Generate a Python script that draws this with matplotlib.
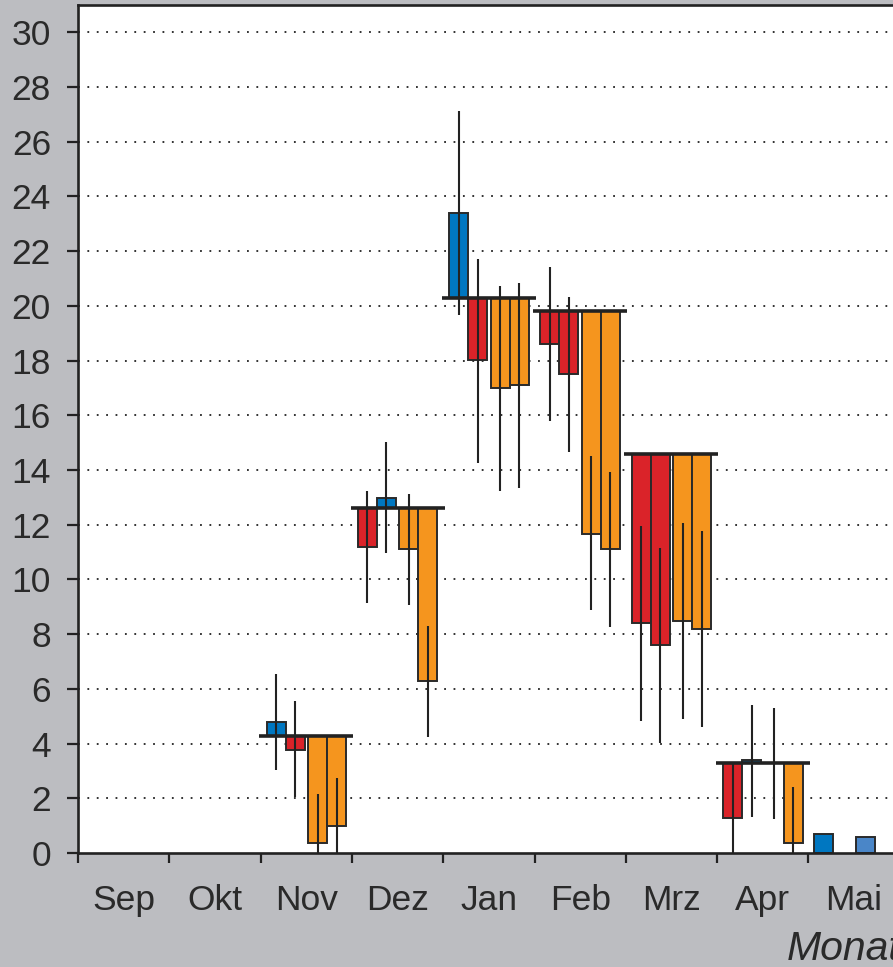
import numpy as np
import matplotlib
matplotlib.use('Agg')
import matplotlib.pyplot as plt

# month labels on the x axis
months = ['Sep', 'Okt', 'Nov', 'Dez', 'Jan', 'Feb', 'Mrz', 'Apr', 'Mai']

# colours
BLUE = '#0077c1'
RED = '#da2329'
ORANGE = '#f5951e'
LBLUE = '#4a86c8'
BG = '#bcbdc1'
DARK = '#222222'

# reference level of each month (horizontal line); None = no line
base = [None, None, 4.27, 12.6, 20.3, 19.8, 14.6, 3.3, 0.0]

# four slots per month: bar end value, colour, error low, error high
# (nan = nothing drawn in that slot)
nan = np.nan
vals = {
    'Nov': [4.8, 3.78, 0.37, 0.99],
    'Dez': [11.18, 12.97, 11.1, 6.28],
    'Jan': [23.38, 18.01, 16.99, 17.1],
    'Feb': [18.6, 17.5, 11.66, 11.1],
    'Mrz': [8.4, 7.6, 8.48, 8.18],
    'Apr': [1.28, 3.4, nan, 0.37],
    'Mai': [0.69, nan, 0.58, nan],
}
cols = {
    'Nov': [BLUE, RED, ORANGE, ORANGE],
    'Dez': [RED, BLUE, ORANGE, ORANGE],
    'Jan': [BLUE, RED, ORANGE, ORANGE],
    'Feb': [RED, RED, ORANGE, ORANGE],
    'Mrz': [RED, RED, ORANGE, ORANGE],
    'Apr': [RED, BLUE, ORANGE, ORANGE],
    'Mai': [BLUE, BLUE, LBLUE, LBLUE],
}
err_lo = {
    'Nov': [3.03, 2.03, 0.0, 0.0],
    'Dez': [9.13, 10.96, 9.06, 4.24],
    'Jan': [19.66, 14.25, 13.25, 13.35],
    'Feb': [15.78, 14.65, 8.88, 8.26],
    'Mrz': [4.82, 4.02, 4.9, 4.6],
    'Apr': [0.0, 1.32, 1.24, 0.0],
    'Mai': [nan, nan, nan, nan],
}
err_hi = {
    'Nov': [6.54, 5.55, 2.16, 2.74],
    'Dez': [13.23, 15.02, 13.12, 8.29],
    'Jan': [27.11, 21.7, 20.72, 20.82],
    'Feb': [21.41, 20.31, 14.52, 13.94],
    'Mrz': [11.95, 11.14, 12.06, 11.76],
    'Apr': [3.29, 5.41, 5.3, 2.41],
    'Mai': [nan, nan, nan, nan],
}

slot_off = [0.065, 0.273, 0.52, 0.728]
bw = 0.208

plt.rcParams['font.family'] = ['Liberation Sans', 'DejaVu Sans']
TXT = '#2a2a2a'

fig = plt.figure(figsize=(8.93, 9.67), dpi=100, facecolor=BG)
# axes runs past the right edge of the picture (cropped like the original)
ax = fig.add_axes([78 / 893, (967 - 853) / 967, 913 / 893, 848 / 967])
ax.set_facecolor('white')
ax.set_xlim(0, 10)
ax.set_ylim(0, 31)

# dotted grid
for g in range(2, 31, 2):
    ax.axhline(g, color=DARK, lw=1.3, ls=(0, (1, 4.2)), zorder=0)

for i, m in enumerate(months):
    if m not in vals:
        continue
    b = base[i]
    for k in range(4):
        v = vals[m][k]
        x0 = i + slot_off[k]
        if not np.isnan(v):
            ax.bar(x0, v - b, bottom=b, width=bw, align='edge',
                   color=cols[m][k], edgecolor='#2a2a2a', linewidth=1.4, zorder=2)
        lo, hi = err_lo[m][k], err_hi[m][k]
        if not np.isnan(lo):
            ax.vlines(x0 + bw / 2, lo, hi, color=DARK, lw=1.5, zorder=3)
    if b is not None and b > 0:
        ax.hlines(b, i - 0.015, i + 1.015, color=DARK, lw=2.6, zorder=4)

# spines
for s in ['left', 'bottom', 'top']:
    ax.spines[s].set_linewidth(1.9)
    ax.spines[s].set_color(DARK)
ax.spines['right'].set_visible(False)

ax.set_yticks(range(0, 31, 2))
ax.tick_params(axis='y', length=8, width=1.6, color=DARK, labelsize=25.5,
               labelcolor=TXT, pad=11.5)
ax.set_xticks(range(0, 10))
ax.set_xticklabels([])
ax.tick_params(axis='x', which='major', length=7.5, width=1.6, color=DARK)
ax.set_xticks(np.arange(0.5, 9.5, 1), minor=True)
ax.set_xticklabels(months, minor=True)
ax.tick_params(axis='x', which='minor', length=0, labelsize=25.5,
               labelcolor=TXT, pad=22.5)

fig.text(787 / 893, (967 - 960) / 967, 'Monat', fontsize=29.5, style='italic',
         color=TXT, ha='left', va='baseline')

fig.savefig('out.png', dpi=100, facecolor=BG)
